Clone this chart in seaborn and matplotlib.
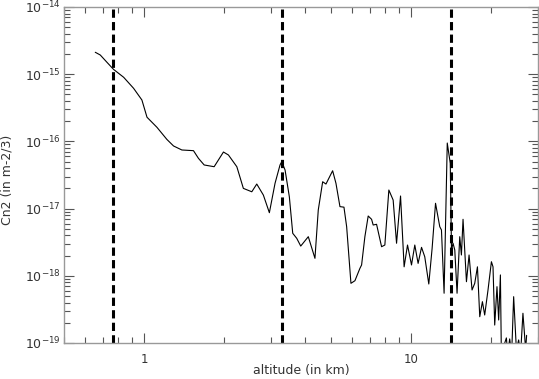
import matplotlib
matplotlib.use("Agg")
import matplotlib.pyplot as plt
import seaborn as sns
import pandas as pd
import numpy as np
from matplotlib.ticker import LogLocator, NullFormatter, FuncFormatter, FixedLocator

altitude_km = [
    0.655, 0.684, 0.725, 0.767, 0.837, 0.912, 0.980, 1.024, 1.116, 1.216,
    1.288, 1.384, 1.530, 1.597, 1.678, 1.829, 1.982, 2.069, 2.225, 2.354,
    2.532, 2.643, 2.798, 2.947, 3.095, 3.231, 3.280, 3.375, 3.502, 3.606,
    3.733, 3.864, 4.125, 4.369, 4.496, 4.670, 4.805, 5.090, 5.238, 5.422,
    5.613, 5.745, 5.962, 6.171, 6.442, 6.537, 6.725, 6.920, 7.126, 7.225,
    7.439, 7.768, 7.991, 8.272, 8.585, 8.841, 9.151, 9.438, 9.719, 10.06,
    10.35, 10.65, 10.97, 11.28, 11.68, 12.02, 12.38, 12.84, 13.03, 13.33,
    13.70, 14.06, 14.21, 14.40, 14.62, 14.91, 15.26, 15.48, 15.70, 16.17,
    16.54, 16.97, 17.37, 17.78, 18.14, 18.56, 18.93, 19.48, 20.06, 20.34,
    20.64, 21.05, 21.36, 21.68, 21.86, 22.83, 23.09, 23.49, 23.90, 24.31,
    24.89, 25.38, 25.82, 26.34, 26.96, 27.19,
]
cn2 = [
    2.12e-15, 1.93e-15, 1.50e-15, 1.18e-15, 9.0e-16, 6.17e-16, 4.13e-16, 2.29e-16, 1.62e-16, 1.07e-16,
    8.55e-17, 7.45e-17, 7.28e-17, 5.6e-17, 4.46e-17, 4.2e-17, 6.95e-17, 6.28e-17, 4.2e-17, 2.0e-17,
    1.78e-17, 2.32e-17, 1.59e-17, 8.69e-18, 2.38e-17, 4.46e-17, 4.99e-17, 3.75e-17, 1.50e-17, 4.29e-18,
    3.61e-18, 2.77e-18, 3.82e-18, 1.82e-18, 9.53e-18, 2.51e-17, 2.32e-17, 3.66e-17, 2.38e-17, 1.07e-17,
    1.05e-17, 5.38e-18, 7.73e-19, 8.45e-19, 1.29e-18, 1.45e-18, 3.82e-18, 7.76e-18, 6.93e-18, 5.7e-18,
    5.84e-18, 2.71e-18, 2.87e-18, 1.89e-17, 1.34e-17, 3.05e-18, 1.54e-17, 1.36e-18, 2.87e-18, 1.45e-18,
    2.87e-18, 1.53e-18, 2.65e-18, 1.92e-18, 7.55e-19, 2.56e-18, 1.20e-17, 5.38e-18, 4.81e-18, 5.5e-19,
    9.46e-17, 4.72e-17, 2.42e-18, 3.05e-18, 2.42e-18, 5.5e-19, 3.82e-18, 2.04e-18, 6.93e-18, 8.17e-19,
    2.04e-18, 6.15e-19, 7.73e-19, 1.36e-18, 2.46e-19, 4.12e-19, 2.61e-19, 6.15e-19, 1.62e-18, 1.36e-18,
    1.85e-19, 6.89e-19, 2.20e-19, 1.03e-18, 7e-20, 1.19e-19, 7e-20, 1.15e-19, 7e-20, 4.89e-19,
    8e-20, 1.11e-19, 7e-20, 2.77e-19, 8e-20, 1.3e-19,
]
dashed_altitudes = [0.765, 3.3, 14.1]
x_tick_values = [1, 10]
x_tick_labels = ["1", "10"]
y_tick_exponents = [-19, -18, -17, -16, -15, -14]

x_limits = (0.5, 30)
y_limits = (1e-19, 1e-14)

sns.set_style("ticks")
plt.rcParams["font.family"] = ["DejaVu Sans"]
plt.rcParams["mathtext.fontset"] = "dejavusans"

fig = plt.figure(figsize=(5.39, 3.79), dpi=100)
ax = fig.add_axes([64 / 539, 36 / 379, 474 / 539, 336 / 379])

df = pd.DataFrame({"altitude": altitude_km, "cn2": cn2})
sns.lineplot(data=df, x="altitude", y="cn2", ax=ax, color="black",
             linewidth=0.8, estimator=None, sort=False)

for xv in dashed_altitudes:
    ax.axvline(xv, color="black", linewidth=2.2, linestyle=(0, (2.7, 1.4)))

ax.set_xscale("log")
ax.set_yscale("log")
ax.set_xlim(*x_limits)
ax.set_ylim(*y_limits)

ax.set_xticks(x_tick_values)
ax.set_xticklabels(x_tick_labels)
ax.xaxis.set_minor_locator(LogLocator(base=10, subs=np.arange(2, 10), numticks=20))
ax.xaxis.set_minor_formatter(NullFormatter())
ax.set_yticks([10.0 ** e for e in y_tick_exponents])
ax.set_yticklabels([r"$10^{%d}$" % e for e in y_tick_exponents])
ax.yaxis.set_minor_locator(LogLocator(base=10, subs=np.arange(2, 10), numticks=20))
ax.yaxis.set_minor_formatter(NullFormatter())
ax.set_xlim(*x_limits)
ax.set_ylim(*y_limits)

ax.tick_params(which="both", direction="in", top=True, right=True,
               color="#555555", labelcolor="#333333")
ax.tick_params(which="major", length=7, width=0.8)
ax.tick_params(which="minor", length=4, width=0.8)
ax.tick_params(axis="x", which="major", labelsize=8.5, pad=7)
ax.tick_params(axis="y", which="major", labelsize=9, pad=2)

for tick in ax.yaxis.get_major_ticks():
    tick.label1.set_verticalalignment("center_baseline")

for side in ["left", "bottom", "top", "right"]:
    ax.spines[side].set_color("#999999")
    ax.spines[side].set_linewidth(1.0)

ax.set_xlabel("altitude (in km)", fontsize=9, color="#333333")
ax.set_ylabel("Cn2 (in m-2/3)", fontsize=9, color="#333333")
ax.xaxis.set_label_coords(0.5, -0.063)
ax.yaxis.set_label_coords(-0.106, 0.485)

fig.savefig("out.png", dpi=100)
